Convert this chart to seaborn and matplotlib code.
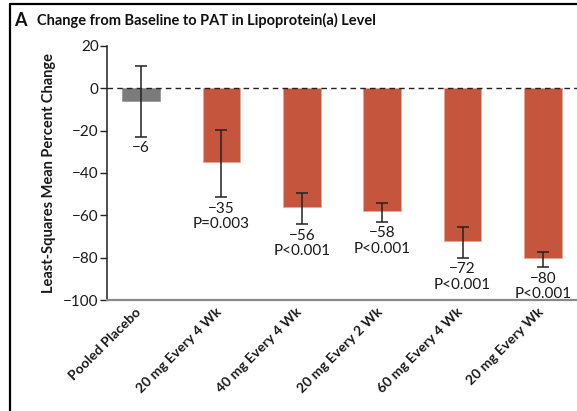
import matplotlib
matplotlib.use("Agg")
import matplotlib.pyplot as plt
from matplotlib.lines import Line2D
import matplotlib.transforms as mtransforms
import seaborn as sns
import numpy as np

categories = ["Pooled Placebo", "20 mg Every 4 Wk", "40 mg Every 4 Wk",
              "20 mg Every 2 Wk", "60 mg Every 4 Wk", "20 mg Every Wk"]
values = [-6, -35, -56, -58, -72, -80]
ci_low = [-23, -51.5, -64.3, -63.3, -80.3, -84.6]
ci_high = [10.5, -19.5, -49.4, -54.2, -65.5, -77.3]
labels = ["\u22126", "\u221235\nP=0.003", "\u221256\nP<0.001", "\u221258\nP<0.001",
          "\u221272\nP<0.001", "\u221280\nP<0.001"]
colors = ["#7b7b7b", "#c5553d", "#c5553d", "#c5553d", "#c5553d", "#c5553d"]
edge_colors = ["#9a9a9a", "#e9a597", "#e9a597", "#e9a597", "#e9a597", "#e9a597"]
yticks = [20, 0, -20, -40, -60, -80, -100]

sns.set_theme(style="white")
plt.rcParams['font.family'] = ['Lato', 'DejaVu Sans']
plt.rcParams['axes.unicode_minus'] = True

W, H = 577, 411
fig = plt.figure(figsize=(W / 100, H / 100), dpi=100)
ax = fig.add_axes([107 / W, (H - 300) / H, (W - 107) / W, (300 - 46) / H])

sns.barplot(x=categories, y=values, hue=categories, palette=colors, legend=False,
            width=0.47, ax=ax, linewidth=0.6, saturation=1)
for patch, ec in zip(ax.patches, edge_colors):
    patch.set_edgecolor(ec)

xs = np.arange(len(categories))
vals = np.array(values)
lo = vals - np.array(ci_low)
hi = np.array(ci_high) - vals
ax.errorbar(xs, vals, yerr=[lo, hi], fmt="none", ecolor="#222222", elinewidth=1.1,
            capsize=4.5, capthick=1.1, zorder=5)

for x, yl, t in zip(xs, ci_low, labels):
    ax.annotate(t, xy=(x, yl), xytext=(0, -3), textcoords="offset points",
                ha="center", va="top", fontsize=11, color="#1a1a1a", linespacing=1.12)

ax.axhline(0, color="#222222", lw=1.0, ls=(0, (4, 3)), zorder=1)

ax.set_ylim(-100, 20)
ax.set_xlim(-0.423, 5.423)
ax.set_yticks(yticks)
ax.set_yticklabels([f"{v}".replace("-", "\u2212") for v in yticks], fontsize=11, color="#1a1a1a")
ax.tick_params(axis="y", direction="out", length=5, width=1, color="#222222", pad=1, left=True)
ax.tick_params(axis="x", length=0, pad=4)
ax.set_xticks(xs)
ax.set_xticklabels(categories, rotation=45, ha="right", rotation_mode="anchor",
                   fontsize=10, fontweight="bold", color="#1a1a1a")
offset = mtransforms.ScaledTranslation(-6 / 100, 0, fig.dpi_scale_trans)
for lab in ax.get_xticklabels():
    lab.set_transform(lab.get_transform() + offset)
ax.set_xlabel("")
ax.set_ylabel("Least-Squares Mean Percent Change", fontsize=10.5, fontweight="bold",
              color="#1a1a1a", labelpad=5)

for s in ["top", "right"]:
    ax.spines[s].set_visible(False)
ax.spines["left"].set_color("#222222")
ax.spines["left"].set_linewidth(1.1)
ax.spines["bottom"].set_color("#8a8a8a")
ax.spines["bottom"].set_linewidth(1.6)

# frame lines
fig.add_artist(Line2D([10 / W, 1.0], [(H - 4) / H, (H - 4) / H], transform=fig.transFigure,
                      color="black", lw=1.6))
fig.add_artist(Line2D([10 / W, 10 / W], [0, (H - 4) / H], transform=fig.transFigure,
                      color="black", lw=1.6))

fig.text(14 / W, (H - 20) / H, "A", fontsize=13, fontweight="bold", va="center", ha="left",
         color="#111111")
fig.text(37 / W, (H - 20) / H, "Change from Baseline to PAT in Lipoprotein(a) Level",
         fontsize=10.5, fontweight="bold", va="center", ha="left", color="#111111")

fig.savefig("out.png", dpi=100)
